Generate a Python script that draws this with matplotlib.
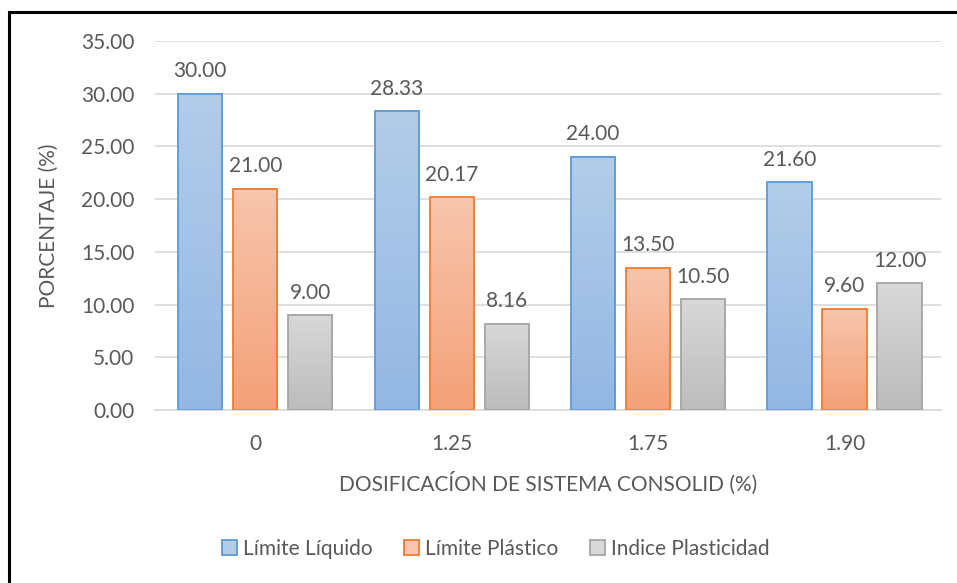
import numpy as np
import matplotlib.pyplot as plt
from matplotlib.patches import Patch, Rectangle
from matplotlib.colors import LinearSegmentedColormap

# dosage categories and measured limits
dosis = ['0', '1.25', '1.75', '1.90']
lim_liquido = [30.00, 28.33, 24.00, 21.60]
lim_plastico = [21.00, 20.17, 13.50, 9.60]
ind_plasticidad = [9.00, 8.16, 10.50, 12.00]
series_names = ['Límite Líquido', 'Límite Plástico', 'Indice Plasticidad']

TXT = '#595959'
FS = 15
plt.rcParams['font.family'] = ['Lato', 'DejaVu Sans']

# (top colour, bottom colour, edge colour)
styles = [('#b3cde9', '#93b7e3', '#5b9bd5'),
          ('#f8c5ad', '#f4a178', '#ed7d31'),
          ('#d8d8d8', '#bcbcbc', '#a5a5a5')]

fig = plt.figure(figsize=(9.57, 5.83), dpi=100)
ax = fig.add_axes([0.162, 0.2967, 0.821, 0.633])

x = np.arange(len(dosis))
bw = 0.225
step = 0.28
grad = np.linspace(0, 1, 256).reshape(-1, 1)

for k, vals in enumerate([lim_liquido, lim_plastico, ind_plasticidad]):
    top, bot, edge = styles[k]
    cmap = LinearSegmentedColormap.from_list(f'g{k}', [bot, top])
    bars = ax.bar(x + (k - 1) * step, vals, width=bw, facecolor='none',
                  edgecolor=edge, linewidth=1.3, zorder=3)
    for b, v in zip(bars, vals):
        x0, w, h = b.get_x(), b.get_width(), b.get_height()
        ax.imshow(grad, extent=(x0, x0 + w, 0, h), origin='lower', cmap=cmap,
                  aspect='auto', zorder=2)
        ax.annotate(f'{v:.2f}', (x0 + w / 2, h), xytext=(0, 9),
                    textcoords='offset points', ha='center', va='bottom',
                    fontsize=FS, color=TXT)

ax.set_xlim(-0.51, len(dosis) - 0.51)
ax.set_ylim(0, 35)
ax.set_yticks(np.arange(0, 35.1, 5))
ax.set_yticklabels([f'{t:.2f}' for t in np.arange(0, 35.1, 5)])
ax.set_xticks(x)
ax.set_xticklabels(dosis)
ax.tick_params(length=0, labelsize=FS, colors=TXT)
ax.tick_params(axis='x', pad=17)
ax.tick_params(axis='y', pad=15)
ax.grid(axis='y', color='#d9d9d9', linewidth=1.2, zorder=0)
for s in ['top', 'right', 'left']:
    ax.spines[s].set_visible(False)
ax.spines['bottom'].set_color('#d9d9d9')
ax.spines['bottom'].set_linewidth(1.2)

ax.set_xlabel('DOSIFICACÍON DE SISTEMA CONSOLID (%)', fontsize=FS,
              color=TXT, labelpad=13)
ax.set_ylabel('PORCENTAJE (%)', fontsize=FS, color=TXT, labelpad=16)

handles = [Patch(facecolor=s[0], edgecolor=s[2], linewidth=1.3) for s in styles]
fig.legend(handles, series_names, loc='center', bbox_to_anchor=(0.518, 0.058),
           ncol=3, frameon=False, fontsize=FS, labelcolor=TXT,
           handlelength=0.72, handleheight=0.72, handletextpad=0.3,
           columnspacing=1.5)

# outer frame, cut off at the right and bottom edges
fig.patches.append(Rectangle((9 / 957, -0.05), 1.1, 1 - 11.5 / 583 + 0.05,
                             transform=fig.transFigure, fill=False,
                             edgecolor='black', linewidth=2.2))

fig.savefig('out.png', dpi=100, facecolor='white')
